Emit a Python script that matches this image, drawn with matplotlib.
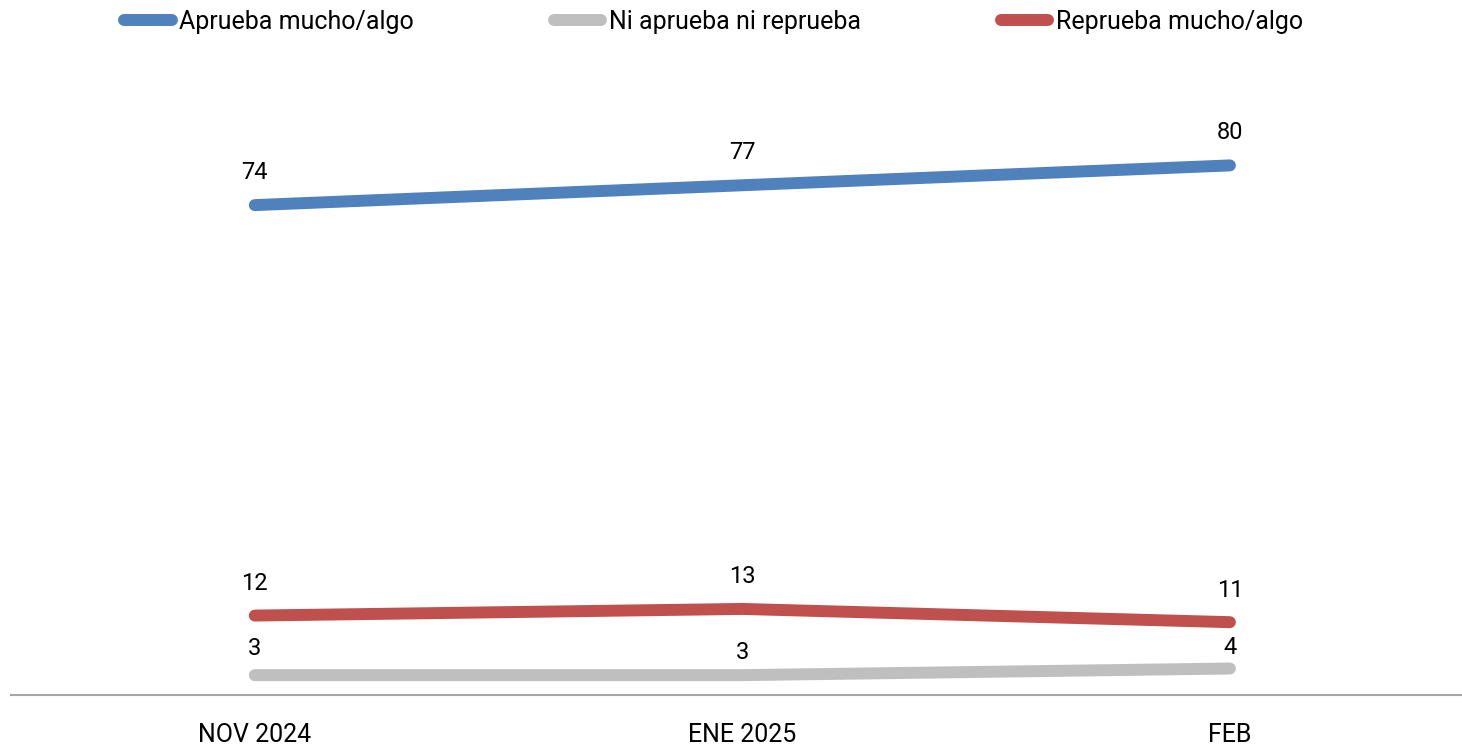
import matplotlib
matplotlib.use("Agg")
import matplotlib.pyplot as plt

# データ
categories = ["NOV 2024", "ENE 2025", "FEB"]
aprueba = [74, 77, 80]
ni_ni = [3, 3, 4]
reprueba = [12, 13, 11]

series_names = ["Aprueba mucho/algo", "Ni aprueba ni reprueba", "Reprueba mucho/algo"]
colors = ["#4F81BD", "#BFBFBF", "#C0504D"]
# ラベルの上方向のずれ (px)
label_offsets = [[33, 33, 33], [27, 23, 21], [32, 32, 32]]

fig = plt.figure(figsize=(14.62, 7.45), dpi=100)
ax = fig.add_axes([11 / 1462, 50 / 745, 1 - 11 / 1462, (695 - 33) / 745])

x = list(range(len(categories)))
lines = []
for vals, name, c, offs in zip([aprueba, ni_ni, reprueba], series_names, colors, label_offsets):
    ln, = ax.plot(x, vals, color=c, lw=8.6, solid_capstyle="round", label=name)
    lines.append(ln)
    for xi, v, o in zip(x, vals, offs):
        ax.annotate(str(v), (xi, v), xytext=(0, o * 0.72), textcoords="offset points",
                    ha="center", va="center", fontsize=17, family="Roboto")

ax.set_xlim(-0.5, 2.476)
ax.set_ylim(0, 100)
ax.set_xticks(x)
ax.set_xticklabels(categories, fontsize=18, family="Roboto")
ax.tick_params(axis="x", length=0, pad=20)
ax.set_yticks([])
for s in ["top", "left", "right"]:
    ax.spines[s].set_visible(False)
ax.spines["bottom"].set_color("#A6A6A6")
ax.spines["bottom"].set_linewidth(1.5)

leg = fig.legend(handles=lines, loc="upper left", bbox_to_anchor=(124 / 1462, 1 - 10 / 745), ncol=3,
                 frameon=False, borderpad=0, borderaxespad=0,
                 handlelength=1.9, handletextpad=0.3, columnspacing=5.6,
                 prop={"family": "Roboto", "size": 18})

fig.savefig("out.png", dpi=100)
plt.close()
